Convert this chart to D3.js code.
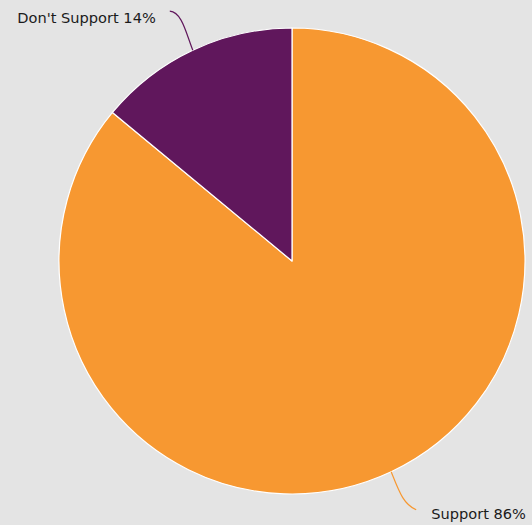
<!DOCTYPE html>
<html>
<head>
<meta charset="utf-8">
<script src="https://cdn.jsdelivr.net/npm/d3@7"></script>
<style>
  html, body { margin: 0; padding: 0; background: #e4e4e4; }
  svg { display: block; }
  text { font-family: "DejaVu Sans", sans-serif; font-size: 14.6px; fill: #1b1b1b; }
</style>
</head>
<body>
<svg id="chart" width="532" height="525"></svg>
<script>
// Survey result shares (percent)
const categories = ["Support", "Don't Support"];
const values = [86, 14];
const colors = ["#f79831", "#60175c"];

const width = 532, height = 525;
const cx = 292, cy = 261, radius = 233;

const svg = d3.select("#chart");
svg.append("rect").attr("width", width).attr("height", height).attr("fill", "#e4e4e4");

const g = svg.append("g").attr("transform", `translate(${cx},${cy})`);

const data = categories.map((c, i) => ({ name: c, value: values[i], color: colors[i] }));
const pie = d3.pie().value(d => d.value).sort(null);
const arc = d3.arc().innerRadius(0).outerRadius(radius);

const arcs = pie(data);

g.selectAll("path.slice")
  .data(arcs)
  .join("path")
  .attr("class", "slice")
  .attr("d", arc)
  .attr("fill", d => d.data.color)
  .attr("stroke", "#ffffff")
  .attr("stroke-width", 1.2)
  .attr("stroke-linejoin", "round");

// Curved leader lines from each slice edge out to its label
const labelLayout = {
  "Support": { c1: [8, 20], c2: [12, 32], end: [25, 38], text: [40, 42], anchor: "start" },
  "Don't Support": { c1: [-7, -18], c2: [-11, -38], end: [-23, -39], text: [-37, -32], anchor: "end" }
};

arcs.forEach(d => {
  const mid = (d.startAngle + d.endAngle) / 2;
  const x0 = Math.sin(mid) * radius;
  const y0 = -Math.cos(mid) * radius;
  const L = labelLayout[d.data.name];
  g.append("path")
    .attr("d", `M${x0},${y0} C${x0 + L.c1[0]},${y0 + L.c1[1]} ${x0 + L.c2[0]},${y0 + L.c2[1]} ${x0 + L.end[0]},${y0 + L.end[1]}`)
    .attr("fill", "none")
    .attr("stroke", d.data.color)
    .attr("stroke-width", 1.2);
  g.append("text")
    .attr("x", x0 + L.text[0])
    .attr("y", y0 + L.text[1])
    .attr("text-anchor", L.anchor)
    .attr("dy", "0.35em")
    .text(`${d.data.name} ${d.data.value}%`);
});
</script>
</body>
</html>
